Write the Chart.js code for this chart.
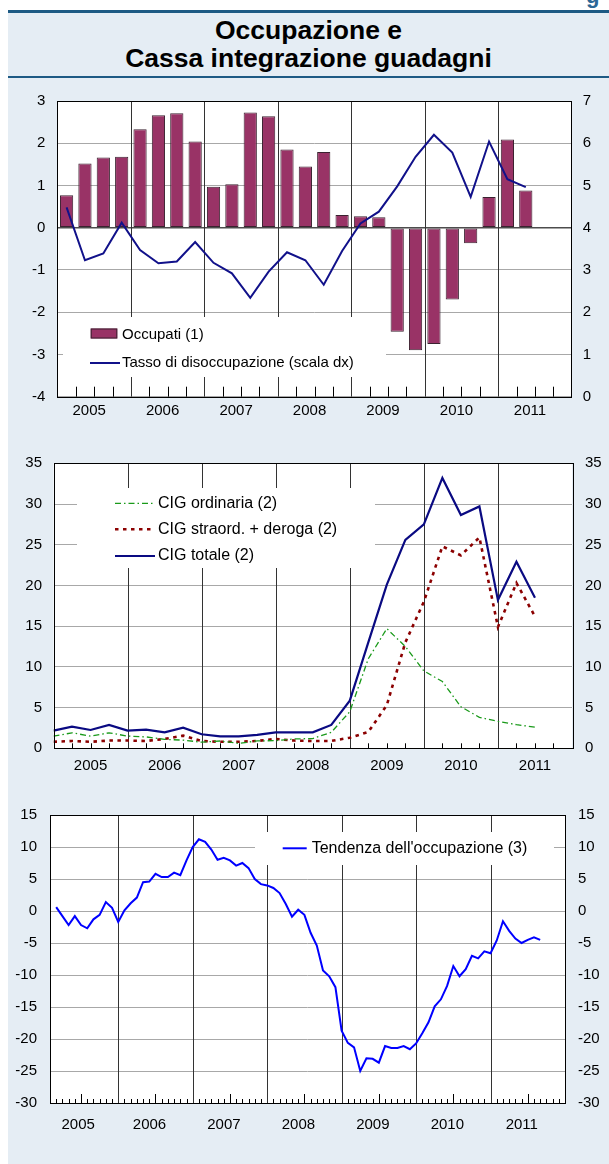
<!DOCTYPE html>
<html lang="it">
<head>
<meta charset="utf-8">
<title>Occupazione e Cassa integrazione guadagni</title>
<script src="https://cdn.jsdelivr.net/npm/chart.js@4.4.1/dist/chart.umd.min.js"></script>
<style>
  html, body { margin: 0; padding: 0; background: #fff; }
  body { position: relative; width: 609px; height: 1164px; overflow: hidden;
         font-family: "Liberation Sans", Arial, Helvetica, sans-serif; }
  #sfondo { position: absolute; left: 8px; top: 12px; width: 601px; height: 1152px; background: #e5edf4; }
  .filetto { position: absolute; left: 8px; width: 601px; background: #1d5a84; }
  #titolo { position: absolute; left: 8px; top: 16px; width: 601px; text-align: center;
            font-weight: bold; font-size: 26.5px; line-height: 28px; color: #000; }
  #angolo { position: absolute; left: 586px; top: 0; width: 23px; height: 10px; overflow: hidden; }
  #angolo span { position: absolute; left: 0; top: -15px; font-weight: bold; font-size: 22px;
                 line-height: 22px; color: #2b6796; }
  canvas { position: absolute; left: 8px; }
</style>
</head>
<body>
<div id="sfondo"></div>
<div class="filetto" style="top:10px;height:3px"></div>
<div id="angolo"><span>g</span></div>
<div id="titolo">Occupazione e<br>Cassa integrazione guadagni</div>
<div class="filetto" style="top:76px;height:2px"></div>
<canvas id="grafico1"></canvas>
<canvas id="grafico2"></canvas>
<canvas id="grafico3"></canvas>
<script>
// Dati
const anni = ['2005', '2006', '2007', '2008', '2009', '2010', '2011'];

// Pannello 1: trimestrali, dal 1° trim. 2005 al 2° trim. 2011
const occupati = [0.77, 1.52, 1.66, 1.68, 2.33, 2.66, 2.71, 2.04, 0.97, 1.03, 2.73, 2.64, 1.85,
    1.45, 1.79, 0.30, 0.27, 0.25, -2.46, -2.90, -2.75, -1.70, -0.37, 0.73, 2.09, 0.88];
const disoccupazione = [4.48, 3.23, 3.39, 4.12, 3.47, 3.16, 3.20, 3.66, 3.17, 2.92, 2.34, 2.96, 3.42,
    3.23, 2.65, 3.45, 4.10, 4.38, 4.98, 5.68, 6.20, 5.78, 4.73, 6.04, 5.15, 4.96];

// Pannello 2: trimestrali, da inizio 2005 a metà 2011
const cigOrdinaria = [1.5, 1.9, 1.5, 1.9, 1.5, 1.4, 1.1, 1.0, 0.75, 0.9, 0.6, 0.9, 0.95, 1.15,
    1.2, 1.96, 4.5, 11.0, 14.7, 12.5, 9.5, 8.2, 5.1, 3.8, 3.3, 2.9, 2.6];
const cigStraordDeroga = [0.8, 0.9, 0.8, 0.95, 0.95, 0.9, 1.15, 1.55, 0.9, 0.8, 0.8, 0.9, 1.15, 0.95,
    0.9, 0.9, 1.3, 2.0, 5.3, 13.0, 18.0, 24.8, 23.7, 25.9, 14.9, 20.3, 16.2];
const cigTotale = [2.17, 2.66, 2.25, 2.87, 2.17, 2.29, 1.96, 2.54, 1.72, 1.47, 1.47, 1.64, 1.96, 1.96,
    1.96, 2.87, 5.85, 13.0, 20.1, 25.6, 27.5, 33.2, 28.65, 29.7, 18.2, 22.9, 18.5];

// Pannello 3: mensili, il primo punto è a fine febbraio 2005
const tendenzaOccupazione = [0.6, -0.8, -2.2, -0.8, -2.2, -2.7, -1.3, -0.6, 1.4, 0.5, -1.7, 0.1,
    1.2, 2.1, 4.5, 4.6, 5.8, 5.3, 5.3, 6.0, 5.6, 7.9, 10.0, 11.2, 10.8, 9.6, 8.0, 8.3, 7.9, 7.1,
    7.5, 6.7, 5.0, 4.2, 4.0, 3.6, 2.8, 1.1, -0.9, 0.2, -0.6, -3.4, -5.4, -9.3, -10.2, -11.9,
    -18.7, -20.6, -21.3, -25.0, -23.0, -23.1, -23.7, -21.1, -21.4, -21.4, -21.1, -21.6, -20.7,
    -19.1, -17.4, -14.9, -13.8, -11.7, -8.6, -10.2, -9.1, -7.0, -7.4, -6.3, -6.6, -4.6, -1.6,
    -3.1, -4.3, -5.0, -4.5, -4.1, -4.5];

// Impostazioni generali
Chart.defaults.font.family = '"Liberation Sans", Arial, Helvetica, sans-serif';
Chart.defaults.font.size = 15;
Chart.defaults.color = '#000';

const FONT = '"Liberation Sans", Arial, Helvetica, sans-serif';

// Posizione dei pannelli nella pagina (px)
const pannelli = {
    p1: { id: 'grafico1', top: 80, altezza: 347, area: { left: 57.4, right: 571.7, top: 93.3, bottom: 396.7 } },
    p2: { id: 'grafico2', top: 440, altezza: 345, area: { left: 53.5, right: 572, top: 463.3, bottom: 748.3 } },
    p3: { id: 'grafico3', top: 790, altezza: 350, area: { left: 50, right: 565, top: 815, bottom: 1103 } }
};

function preparaCanvas(p) {
    const c = document.getElementById(p.id);
    c.width = 601;
    c.height = p.altezza;
    c.style.top = p.top + 'px';
    return c;
}

// linee verticali degli anni, tacche, riquadro della legenda e cornice
function creaDecorazioni(conf) {
    return {
        id: 'decorazioni',
        beforeDraw(chart) {
            const { ctx, chartArea: a } = chart;
            ctx.save();
            ctx.fillStyle = '#fff';
            ctx.fillRect(a.left, a.top, a.right - a.left, a.bottom - a.top);
            ctx.restore();
        },
        beforeDatasetsDraw(chart) {
            const { ctx, chartArea: a, scales } = chart;
            const x = scales.x;
            ctx.save();
            ctx.lineWidth = 1;
            ctx.strokeStyle = '#000';
            conf.tacche.forEach(t => {
                const px = Math.round(x.getPixelForValue(t.v)) + 0.5;
                ctx.beginPath();
                ctx.moveTo(px, a.bottom);
                ctx.lineTo(px, a.bottom - t.h);
                ctx.stroke();
            });
            ctx.strokeStyle = '#333';
            conf.separatori.forEach(v => {
                const px = Math.round(x.getPixelForValue(v)) + 0.5;
                ctx.beginPath();
                ctx.moveTo(px, a.top);
                ctx.lineTo(px, a.bottom);
                ctx.stroke();
            });
            const r = conf.riquadro;
            ctx.fillStyle = '#fff';
            ctx.fillRect(r.x, r.y, r.w, r.h);
            ctx.restore();
        },
        afterDatasetsDraw(chart) {
            const { ctx, chartArea: a } = chart;
            ctx.save();
            ctx.font = conf.font;
            ctx.textBaseline = 'middle';
            conf.voci.forEach(v => {
                const ds = chart.data.datasets[v.ds];
                if (ds.type === 'bar') {
                    ctx.fillStyle = ds.backgroundColor;
                    ctx.fillRect(v.x, v.y - v.h / 2, v.w, v.h);
                    ctx.strokeStyle = ds.borderColor;
                    ctx.lineWidth = 1;
                    ctx.strokeRect(v.x + 0.5, v.y - v.h / 2 + 0.5, v.w - 1, v.h - 1);
                } else {
                    ctx.strokeStyle = ds.borderColor;
                    ctx.lineWidth = ds.borderWidth;
                    ctx.setLineDash(ds.borderDash || []);
                    ctx.beginPath();
                    ctx.moveTo(v.x, v.y);
                    ctx.lineTo(v.x + v.w, v.y);
                    ctx.stroke();
                    ctx.setLineDash([]);
                }
                ctx.fillStyle = '#000';
                ctx.fillText(ds.label, v.tx, v.ty !== undefined ? v.ty : v.y);
            });
            ctx.strokeStyle = '#000';
            ctx.lineWidth = 1;
            ctx.strokeRect(Math.round(a.left) + 0.5, Math.round(a.top) + 0.5,
                Math.round(a.right - a.left), Math.round(a.bottom - a.top));
            ctx.restore();
        }
    };
}

function asseX(p, max, centri, pad, spost) {
    return {
        type: 'linear', min: p.xMin || 0, max: max, offset: false,
        grid: { display: false, drawTicks: false }, border: { display: false },
        afterBuildTicks: s => { s.ticks = centri.map(v => ({ value: v })); },
        ticks: { autoSkip: false, maxRotation: 0, padding: pad, labelOffset: spost,
                 callback: (v, i) => anni[i] },
        afterFit: s => { s.height = p.top + p.altezza - p.area.bottom; }
    };
}

function asseY(p, lato, min, max, passo, pad, griglia) {
    return {
        position: lato, min: min, max: max,
        ticks: { stepSize: passo, padding: pad },
        grid: griglia ? {
            drawTicks: false,
            color: c => c.tick.value === 0 && min < 0 && griglia === 'zero' ? '#4d4d4d' : '#a8a8a8',
            lineWidth: c => c.tick.value === 0 && griglia === 'zero' ? 1.5 : 1
        } : { display: false, drawTicks: false },
        border: { display: false },
        afterFit: s => { s.width = lato === 'left' ? p.area.left - 8 : 609 - p.area.right; }
    };
}

function tacche(da, a, passo, ogni, alta, hBassa, hAlta) {
    const out = [];
    for (let v = da; v <= a; v += passo) {
        if (v % ogni === 0) continue;
        out.push({ v: v, h: (alta && v % 12 === 6) ? hAlta : hBassa });
    }
    return out;
}

// Pannello 1
const p1 = pannelli.p1;
new Chart(preparaCanvas(p1), {
    type: 'bar',
    data: {
        datasets: [
            {
                type: 'bar', label: 'Occupati (1)',
                data: occupati.map((v, i) => ({ x: i + 0.5, y: v })),
                backgroundColor: '#993366', borderColor: '#3b2230', borderWidth: 1,
                borderSkipped: false, yAxisID: 'y', order: 2
            },
            {
                type: 'line', label: 'Tasso di disoccupazione (scala dx)',
                data: disoccupazione.map((v, i) => ({ x: i + 0.5, y: v })),
                borderColor: '#11118a', borderWidth: 2, pointRadius: 0, tension: 0,
                yAxisID: 'y2', order: 1
            }
        ]
    },
    options: {
        responsive: false, animation: false,
        layout: { padding: { top: p1.area.top - p1.top, left: 0, right: 0, bottom: 0 } },
        scales: {
            x: asseX(p1, 28, [2, 6, 10, 14, 18, 22, 26], 5, -5),
            y: asseY(p1, 'left', -4, 3, 1, 12, 'zero'),
            y2: asseY(p1, 'right', 0, 7, 1, 11, false)
        },
        plugins: { legend: { display: false }, tooltip: { enabled: false } }
    },
    plugins: [creaDecorazioni({
        separatori: [4, 8, 12, 16, 20, 24],
        tacche: tacche(1, 27, 1, 4, false, 10, 10),
        riquadro: { x: 55, y: 237, w: 323, h: 60 },
        font: '15px ' + FONT,
        voci: [
            { ds: 0, x: 82.7, y: 253.5, w: 26.6, h: 10, tx: 114, ty: 255 },
            { ds: 1, x: 82, y: 283, w: 30, tx: 114 }
        ]
    })]
});

// Pannello 2
const p2 = pannelli.p2;
new Chart(preparaCanvas(p2), {
    type: 'line',
    data: {
        datasets: [
            {
                label: 'CIG ordinaria (2)',
                data: cigOrdinaria.map((v, k) => ({ x: k, y: v })),
                borderColor: '#1a9a1a', borderWidth: 1.3, borderDash: [6, 3, 1.5, 3],
                pointRadius: 0, tension: 0
            },
            {
                label: 'CIG straord. + deroga (2)',
                data: cigStraordDeroga.map((v, k) => ({ x: k, y: v })),
                borderColor: '#8b0000', borderWidth: 2.6, borderDash: [3.5, 4.5],
                pointRadius: 0, tension: 0
            },
            {
                label: 'CIG totale (2)',
                data: cigTotale.map((v, k) => ({ x: k, y: v })),
                borderColor: '#0a0a82', borderWidth: 2.2,
                pointRadius: 0, tension: 0
            }
        ]
    },
    options: {
        responsive: false, animation: false,
        layout: { padding: { top: p2.area.top - p2.top, left: 0, right: 0, bottom: 0 } },
        scales: {
            x: asseX(p2, 28, [2, 6, 10, 14, 18, 22, 26], 9, 0),
            y: asseY(p2, 'left', 0, 35, 5, 11.5, 'base'),
            y2: asseY(p2, 'right', 0, 35, 5, 13, false)
        },
        plugins: { legend: { display: false }, tooltip: { enabled: false } }
    },
    plugins: [creaDecorazioni({
        separatori: [4, 8, 12, 16, 20, 24],
        tacche: tacche(1, 27, 1, 4, false, 5, 5),
        riquadro: { x: 69, y: 48, w: 298, h: 80 },
        font: '16px ' + FONT,
        voci: [
            { ds: 0, x: 107, y: 63.3, w: 40, tx: 150 },
            { ds: 1, x: 107, y: 89.3, w: 40, tx: 150 },
            { ds: 2, x: 107, y: 116, w: 40, tx: 150 }
        ]
    })]
});

// Pannello 3
const p3 = pannelli.p3;
p3.xMin = 1;
new Chart(preparaCanvas(p3), {
    type: 'line',
    data: {
        datasets: [
            {
                label: "Tendenza dell'occupazione (3)",
                data: tendenzaOccupazione.map((v, i) => ({ x: i + 2, y: v })),
                borderColor: '#0000ff', borderWidth: 2, pointRadius: 0, tension: 0
            }
        ]
    },
    options: {
        responsive: false, animation: false,
        layout: { padding: { top: p3.area.top - p3.top, left: 0, right: 0, bottom: 0 } },
        scales: {
            x: asseX(p3, 84, [6.5, 18, 30, 42, 54, 66, 78], 12.5, -6),
            y: asseY(p3, 'left', -30, 15, 5, 13, 'base'),
            y2: asseY(p3, 'right', -30, 15, 5, 13, false)
        },
        plugins: { legend: { display: false }, tooltip: { enabled: false } }
    },
    plugins: [creaDecorazioni({
        separatori: [12, 24, 36, 48, 60, 72],
        tacche: tacche(2, 83, 1, 12, true, 4, 9),
        riquadro: { x: 247, y: 42, w: 299, h: 33 },
        font: '16px ' + FONT,
        voci: [
            { ds: 0, x: 274.7, y: 58.3, w: 24, tx: 303.7 }
        ]
    })]
});
</script>
</body>
</html>
